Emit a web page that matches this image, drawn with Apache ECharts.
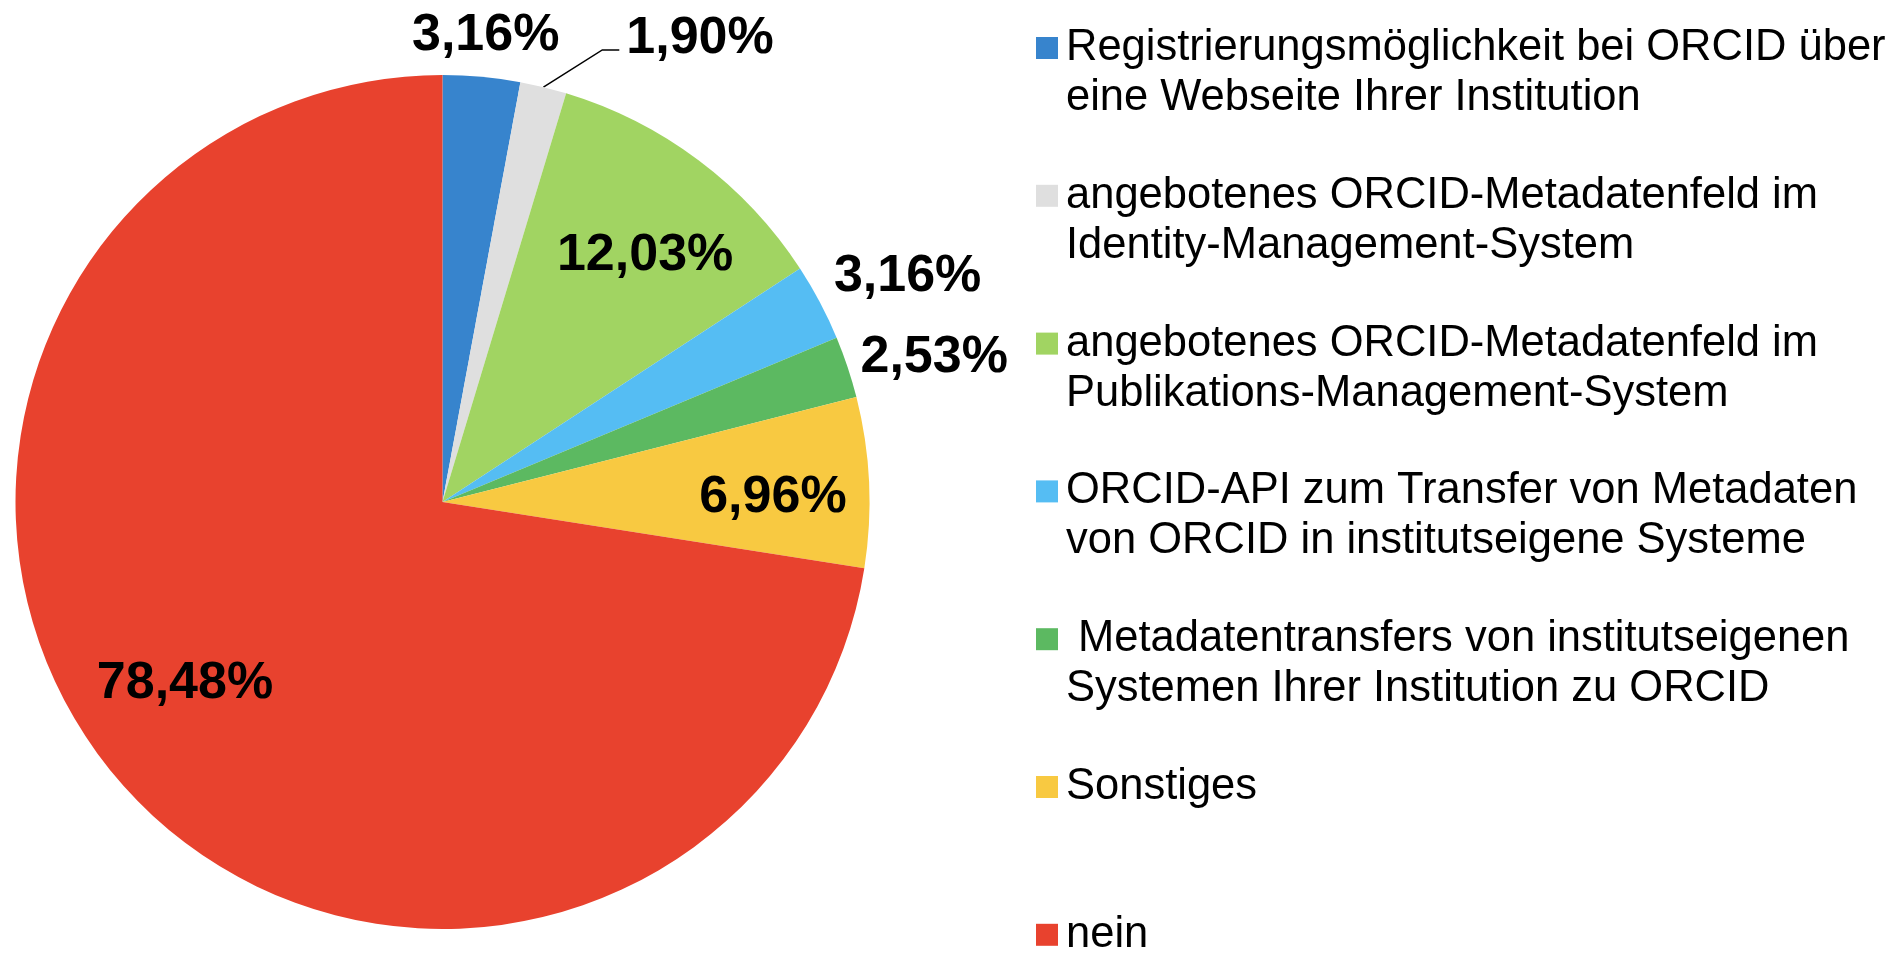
<!DOCTYPE html>
<html>
<head>
<meta charset="utf-8">
<script src="https://cdn.jsdelivr.net/npm/echarts@6/dist/echarts.min.js"></script>
<style>
  html, body { margin: 0; padding: 0; background: #fff; }
  #main { width: 1897px; height: 955px; }
</style>
</head>
<body>
<div id="main"></div>
<script>
// Kategorien (Legende) und Anteile in %
var names = [
    'Registrierungsmöglichkeit bei ORCID über eine Webseite Ihrer Institution',
    'angebotenes ORCID-Metadatenfeld im Identity-Management-System',
    'angebotenes ORCID-Metadatenfeld im Publikations-Management-System',
    'ORCID-API zum Transfer von Metadaten von ORCID in institutseigene Systeme',
    ' Metadatentransfers von institutseigenen Systemen Ihrer Institution zu ORCID',
    'Sonstiges',
    'nein'
];
var legendText = [
    'Registrierungsmöglichkeit bei ORCID über\neine Webseite Ihrer Institution',
    'angebotenes ORCID-Metadatenfeld im\nIdentity-Management-System',
    'angebotenes ORCID-Metadatenfeld im\nPublikations-Management-System',
    'ORCID-API zum Transfer von Metadaten\nvon ORCID in institutseigene Systeme',
    ' Metadatentransfers von institutseigenen\nSystemen Ihrer Institution zu ORCID',
    'Sonstiges',
    'nein'
];
var values = [3.16, 1.90, 12.03, 3.16, 2.53, 6.96, 78.48];
var colors = ['#3784cd', '#dfdfdf', '#a1d462', '#55bdf3', '#5cb961', '#f8c941', '#e8422e'];

// Lage der Beschriftungen: Abstand (x Radius) und Drehung gegenüber der Segmentmitte (Grad)
var labelRadius = [1.105, 1.249, 0.755, 1.215, 1.203, 0.774, 0.733];
var labelShift = [0, 15.2, 2.1, 1.6, 1.6, 1.25, 5.9];
var labelDy = 4; // Glyphen sitzen etwas über der Mitte

var pieCenter = [442.5, 502];
var pieRadius = 427;

var total = 0;
values.forEach(function (v) { total += v; });

// Mittelwinkel eines Segments, im Uhrzeigersinn ab 12 Uhr
function midAngle(i) {
    var cum = 0;
    for (var k = 0; k < i; k++) cum += values[k];
    return (cum + values[i] / 2) / total * 360;
}

function fmt(v) {
    return v.toFixed(2).replace('.', ',') + '%';
}

var data = names.map(function (n, i) {
    return {
        name: n,
        value: values[i],
        itemStyle: { color: colors[i] },
        labelLine: { show: i === 1 }
    };
});

var myChart = echarts.init(document.getElementById('main'));
var option = {
    animation: false,
    legend: {
        orient: 'vertical',
        left: 1036,
        top: -27,
        height: 1400,
        padding: 0,
        itemGap: -2.2,
        itemWidth: 22,
        itemHeight: 22,
        icon: 'rect',
        selectedMode: false,
        data: names,
        formatter: function (name) {
            var t = legendText[names.indexOf(name)];
            // leere Zeile davor, damit das Symbol an der ersten Zeile steht
            return '\n' + t + (t.indexOf('\n') < 0 ? '\n' : '');
        },
        textStyle: {
            fontFamily: 'Liberation Sans',
            fontSize: 43.5,
            lineHeight: 50,
            color: '#000',
            padding: [0, 0, 0, 3]
        }
    },
    series: [{
        type: 'pie',
        center: pieCenter,
        radius: pieRadius,
        startAngle: 90,
        clockwise: true,
        avoidLabelOverlap: false,
        emphasis: { disabled: true },
        itemStyle: { borderWidth: 0 },
        label: {
            show: true,
            position: 'outside',
            fontFamily: 'Liberation Sans',
            fontWeight: 'bold',
            fontSize: 52,
            color: '#000',
            formatter: function (p) { return fmt(p.value); }
        },
        labelLine: {
            show: false,
            lineStyle: { color: '#000', width: 1.5 }
        },
        labelLayout: function (params) {
            var i = params.dataIndex;
            var a = (midAngle(i) + labelShift[i]) * Math.PI / 180;
            var d = labelRadius[i] * pieRadius;
            var x = pieCenter[0] + Math.sin(a) * d;
            var y = pieCenter[1] - Math.cos(a) * d + labelDy;
            var out = { x: x, y: y, align: 'center', verticalAlign: 'middle' };
            if (i === 1) {
                var m = midAngle(i) * Math.PI / 180;
                var ex = pieCenter[0] + Math.sin(m) * pieRadius;
                var ey = pieCenter[1] - Math.cos(m) * pieRadius;
                var left = x - params.labelRect.width / 2;
                out.labelLinePoints = [[ex, ey], [left - 24, y + 11], [left - 7, y + 11]];
            }
            return out;
        },
        data: data
    }]
};
myChart.setOption(option);
</script>
</body>
</html>
